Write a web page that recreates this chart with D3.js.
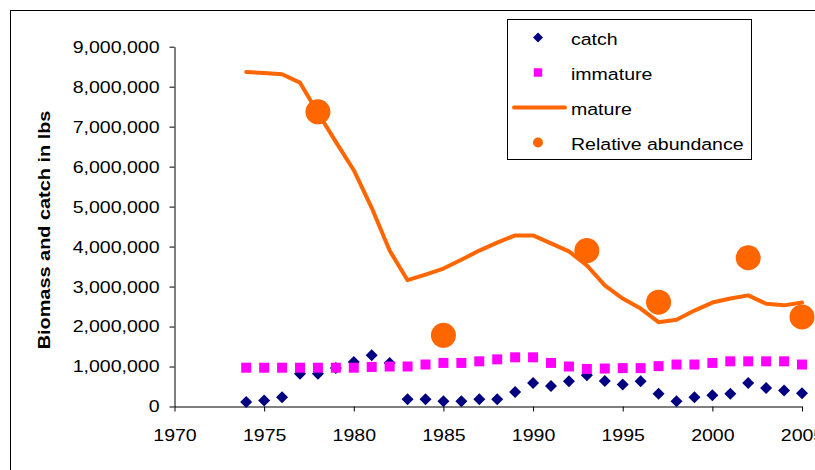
<!DOCTYPE html>
<html lang="en">
<head>
  <meta charset="UTF-8">
  <title>Biomass and catch</title>
  <script src="https://d3js.org/d3.v7.min.js"></script>
  <style>
    body { margin: 0; background: #fff; }
    text { font-family: "Liberation Sans", Arial, sans-serif; fill: #000; }
  </style>
</head>
<body>
  <div id="chart"></div>

  <script>
    // ------------------------ Data ------------------------

    const years = d3.range(1974, 2006);

    const catchLbs = [
      110000, 150000, 230000, 820000, 820000, 960000, 1110000, 1280000,
      1090000, 180000, 180000, 130000, 130000, 180000, 180000, 360000,
      590000, 510000, 630000, 780000, 640000, 550000, 630000, 320000,
      130000, 230000, 280000, 320000, 590000, 460000, 400000, 330000
    ];

    const immatureLbs = [
      970000, 970000, 970000, 970000, 970000, 970000, 970000, 990000,
      1000000, 1000000, 1050000, 1090000, 1090000, 1130000, 1180000, 1230000,
      1230000, 1090000, 1000000, 940000, 950000, 960000, 960000, 1010000,
      1050000, 1050000, 1090000, 1130000, 1130000, 1130000, 1130000, 1050000
    ];

    const matureLbs = [
      8370000, 8340000, 8310000, 8100000, 7350000, 6620000, 5910000, 4970000,
      3900000, 3160000, 3300000, 3450000, 3670000, 3900000, 4100000, 4280000,
      4280000, 4080000, 3880000, 3530000, 3030000, 2700000, 2450000, 2110000,
      2170000, 2400000, 2600000, 2700000, 2780000, 2570000, 2530000, 2600000
    ];

    const abundanceYears = [1978, 1985, 1993, 1997, 2002, 2005];
    const abundanceLbs = [7370000, 1780000, 3900000, 2610000, 3720000, 2240000];

    const xTicks = [1970, 1975, 1980, 1985, 1990, 1995, 2000, 2005];
    const yTicks = d3.range(0, 9000001, 1000000);

    const legendLabels = ["catch", "immature", "mature", "Relative abundance"];

    const colors = { catch: "#000080", immature: "#FF00FF", mature: "#FF6600" };

    // ------------------------ Setup ------------------------

    const W = 815, H = 470;
    const stretch = 1.15; // the original's text is a bit wider than Arial

    const svg = d3.select("#chart").append("svg")
      .attr("width", W)
      .attr("height", H);

    // outer chart border (cut off at right and bottom)
    svg.append("rect")
      .attr("x", 10.5).attr("y", 10.5)
      .attr("width", W + 20).attr("height", H + 20)
      .attr("fill", "#fff").attr("stroke", "#000");

    const x = d3.scaleLinear().domain([1970, 2005]).range([174.5, 802]);
    const y = d3.scaleLinear().domain([0, 9000000]).range([406.5, 46.7]);

    // ------------------------ Axes ------------------------

    const yAxis = svg.append("g")
      .attr("transform", "translate(174.5,0)")
      .call(d3.axisLeft(y).tickValues(yTicks).tickSize(5).tickSizeOuter(0)
        .tickFormat(d3.format(",")));

    yAxis.selectAll("text")
      .attr("x", -15 / stretch)
      .attr("transform", `scale(${stretch},1)`)
      .style("font-size", "17px");

    const xAxis = svg.append("g")
      .attr("transform", "translate(0,406.5)")
      .call(d3.axisBottom(x).tickValues(xTicks).tickSize(5).tickSizeOuter(0)
        .tickPadding(17).tickFormat(d3.format("d")));

    xAxis.selectAll("text")
      .attr("transform", `scale(${stretch},1)`)
      .style("font-size", "17px");

    svg.selectAll(".domain, .tick line").attr("stroke", "#000");

    svg.append("text")
      .attr("transform", `translate(50,230) rotate(-90) scale(${stretch + 0.02},1)`)
      .attr("text-anchor", "middle")
      .style("font-size", "17px")
      .style("font-weight", "bold")
      .text("Biomass and catch in lbs");

    // ------------------------ Series ------------------------

    const diamond = d3.symbol(d3.symbolSquare, 72);
    const square = d3.symbol(d3.symbolSquare, 100);

    svg.append("g").selectAll("path")
      .data(years.map((yr, i) => [yr, catchLbs[i]]))
      .join("path")
      .attr("d", diamond)
      .attr("transform", d => `translate(${x(d[0])},${y(d[1])}) rotate(45)`)
      .attr("fill", colors.catch);

    svg.append("g").selectAll("path")
      .data(years.map((yr, i) => [yr, immatureLbs[i]]))
      .join("path")
      .attr("d", square)
      .attr("transform", d => `translate(${x(d[0])},${y(d[1])})`)
      .attr("fill", colors.immature);

    svg.append("path")
      .datum(years.map((yr, i) => [yr, matureLbs[i]]))
      .attr("d", d3.line().x(d => x(d[0])).y(d => y(d[1])))
      .attr("fill", "none")
      .attr("stroke", colors.mature)
      .attr("stroke-width", 4)
      .attr("stroke-linejoin", "round")
      .attr("stroke-linecap", "round");

    svg.append("g").selectAll("circle")
      .data(abundanceYears.map((yr, i) => [yr, abundanceLbs[i]]))
      .join("circle")
      .attr("cx", d => x(d[0]))
      .attr("cy", d => y(d[1]))
      .attr("r", 12.5)
      .attr("fill", colors.mature);

    // ------------------------ Legend ------------------------

    const legend = svg.append("g");
    legend.append("rect")
      .attr("x", 507.5).attr("y", 19.5)
      .attr("width", 244).attr("height", 140)
      .attr("fill", "#fff").attr("stroke", "#000");

    const rowY = i => 44.5 + i * 35;
    const symX = 538;

    legend.append("path")
      .attr("d", d3.symbol(d3.symbolSquare, 50))
      .attr("transform", `translate(${symX},${rowY(0) - 7}) rotate(45)`)
      .attr("fill", colors.catch);
    legend.append("path")
      .attr("d", d3.symbol(d3.symbolSquare, 72))
      .attr("transform", `translate(${symX},${rowY(1) - 7})`)
      .attr("fill", colors.immature);
    legend.append("line")
      .attr("x1", 514).attr("x2", 565)
      .attr("y1", rowY(2) - 7).attr("y2", rowY(2) - 7)
      .attr("stroke", colors.mature)
      .attr("stroke-width", 4)
      .attr("stroke-linecap", "round");
    legend.append("circle")
      .attr("cx", symX).attr("cy", rowY(3) - 7)
      .attr("r", 5)
      .attr("fill", colors.mature);

    legend.selectAll("text.lbl")
      .data(legendLabels)
      .join("text")
      .attr("class", "lbl")
      .attr("transform", (d, i) => `translate(571,${rowY(i)}) scale(${stretch},1)`)
      .style("font-size", "17px")
      .text(d => d);
  </script>
</body>
</html>
